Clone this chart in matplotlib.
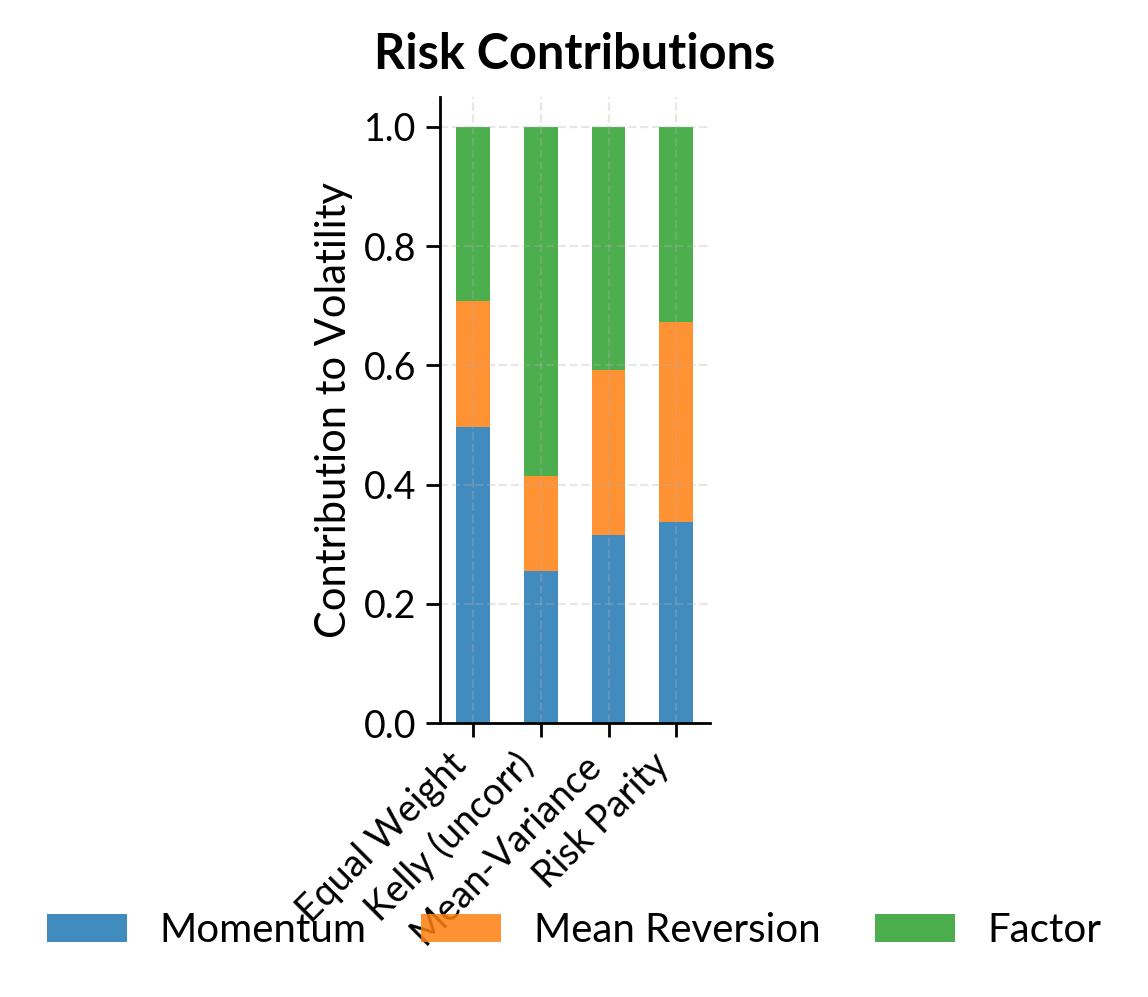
import matplotlib
matplotlib.use("Agg")
import matplotlib.pyplot as plt
import numpy as np

plt.rcParams['font.family'] = ['Lato', 'DejaVu Sans']

strategies = ["Equal Weight", "Kelly (uncorr)", "Mean-Variance", "Risk Parity"]
momentum = [0.497, 0.255, 0.315, 0.337]
mean_reversion = [0.211, 0.160, 0.277, 0.336]
factor = [0.292, 0.585, 0.408, 0.327]
series_names = ["Momentum", "Mean Reversion", "Factor"]
colors = ["#1f77b4", "#ff7f0e", "#2ca02c"]

fig = plt.figure(figsize=(5.74, 4.985), dpi=200)
ax = fig.add_axes([0.3833, 0.2748, 0.2352, 0.6279])

x = np.arange(len(strategies))
bottom = np.zeros(len(strategies))
for name, vals, c in zip(series_names, [momentum, mean_reversion, factor], colors):
    ax.bar(x, vals, 0.5, bottom=bottom, color=c, alpha=0.85, label=name)
    bottom += np.array(vals)

ax.set_xlim(-0.49, 3.5)
ax.set_ylim(0, 1.05)
ax.set_xticks(x)
ax.set_xticklabels(strategies, rotation=45, ha='right', fontsize=13.5)
ax.tick_params(axis='y', labelsize=13.5)
ax.set_ylabel("Contribution to Volatility", fontsize=15)
ax.set_title("Risk Contributions", fontsize=17.5, fontweight='bold', pad=10)
ax.grid(True, linestyle='--', alpha=0.3)
ax.spines['top'].set_visible(False)
ax.spines['right'].set_visible(False)
for s in ['left', 'bottom']:
    ax.spines[s].set_linewidth(1.0)
ax.tick_params(width=1.0, length=5)

fig.legend(loc='center', bbox_to_anchor=(0.5, 0.067), ncol=3, frameon=False,
           fontsize=14.5, columnspacing=1.35)

fig.savefig("out.png", dpi=200)
